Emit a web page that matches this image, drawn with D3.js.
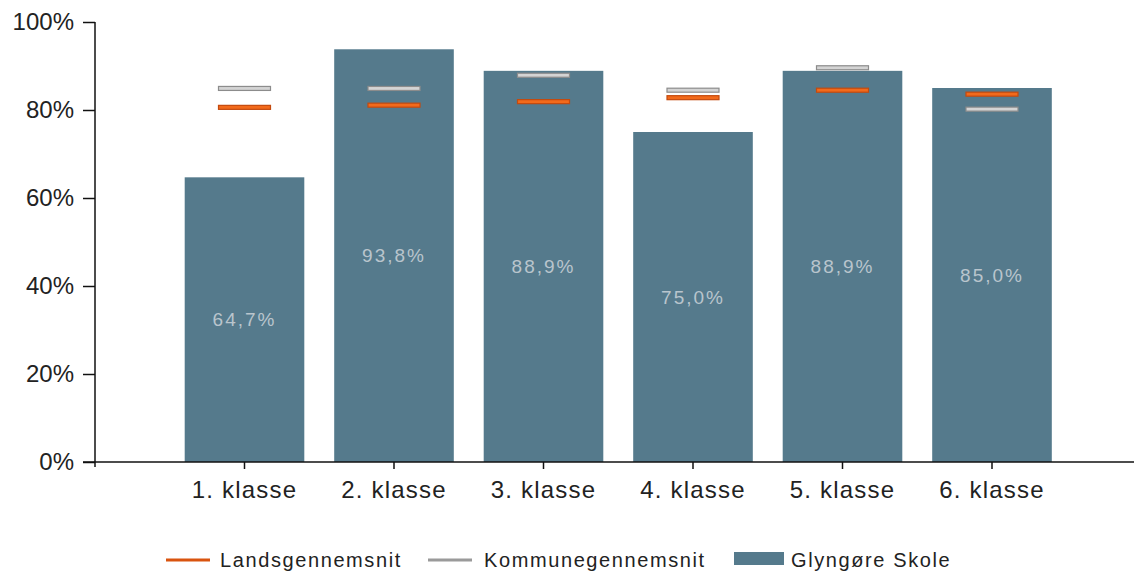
<!DOCTYPE html>
<html>
<head>
<meta charset="utf-8">
<script src="https://cdn.jsdelivr.net/npm/d3@7"></script>
<style>
  body { margin: 0; background: #fff; }
  svg { display: block; font-family: Arial, "Liberation Sans", sans-serif; }
</style>
</head>
<body>
<svg id="chart" width="1134" height="571"></svg>
<script>
const categories = ["1. klasse", "2. klasse", "3. klasse", "4. klasse", "5. klasse", "6. klasse"];
const skole = [64.7, 93.8, 88.9, 75.0, 88.9, 85.0];
const lands = [80.6, 81.1, 81.9, 82.8, 84.5, 83.6];
const kommune = [84.9, 84.9, 87.9, 84.5, 89.6, 80.2];
const yTicks = [0, 20, 40, 60, 80, 100];
const legendLabels = ["Landsgennemsnit", "Kommunegennemsnit", "Glyngøre Skole"];

const svg = d3.select("#chart");
const barColor = "#557a8c";
const textColor = "#222";

const x = d3.scaleBand()
  .domain(categories)
  .range([95, 1141.5])
  .paddingInner(0.2)
  .paddingOuter(0.6);

const y = d3.scaleLinear().domain([0, 100]).range([462, 22]);

// bars
svg.append("g").selectAll("rect")
  .data(categories)
  .join("rect")
  .attr("x", d => x(d))
  .attr("y", (d, i) => y(skole[i]))
  .attr("width", x.bandwidth())
  .attr("height", (d, i) => y(0) - y(skole[i]))
  .attr("fill", barColor);

// value labels in the middle of the bars
svg.append("g").selectAll("text")
  .data(categories)
  .join("text")
  .attr("x", d => x(d) + x.bandwidth() / 2)
  .attr("y", (d, i) => (y(skole[i]) + y(0)) / 2)
  .attr("dy", "0.35em")
  .attr("text-anchor", "middle")
  .attr("font-size", 19)
  .attr("letter-spacing", 2)
  .attr("fill", "#b9c5cd")
  .text((d, i) => skole[i].toFixed(1).replace(".", ",") + "%");

// average markers
const markW = 52, markH = 4;
function markers(values, fill, stroke) {
  svg.append("g").selectAll("rect")
    .data(categories)
    .join("rect")
    .attr("x", d => x(d) + x.bandwidth() / 2 - markW / 2)
    .attr("y", (d, i) => y(values[i]) - markH / 2)
    .attr("width", markW)
    .attr("height", markH)
    .attr("fill", fill)
    .attr("stroke", stroke)
    .attr("stroke-width", 1.2);
}
markers(kommune, "#d4d4d4", "#8c8c8c");
markers(lands, "#f26a1b", "#c44a0e");

// y axis
const yAxis = svg.append("g")
  .attr("transform", "translate(95,0)")
  .call(d3.axisLeft(y).tickValues(yTicks).tickSize(12).tickSizeOuter(0).tickPadding(9)
    .tickFormat(d => d + "%"));
yAxis.select(".domain").attr("d", "M0,22V467").attr("stroke", "#111").attr("stroke-width", 1.5);
yAxis.selectAll(".tick line").attr("stroke", "#111").attr("stroke-width", 1.5);
yAxis.selectAll(".tick text")
  .attr("font-size", 24)
  .attr("font-family", "Arial, 'Liberation Sans', sans-serif")
  .attr("fill", textColor);

// x axis
const xAxis = svg.append("g")
  .attr("transform", "translate(0,462)")
  .call(d3.axisBottom(x).tickSize(7).tickSizeOuter(0).tickPadding(12));
xAxis.select(".domain").attr("d", "M83,0H1134").attr("stroke", "#111").attr("stroke-width", 1.5);
xAxis.selectAll(".tick line").attr("stroke", "#111").attr("stroke-width", 1.5);
xAxis.selectAll(".tick text")
  .attr("font-size", 24)
  .attr("letter-spacing", 1.2)
  .attr("font-family", "Arial, 'Liberation Sans', sans-serif")
  .attr("fill", textColor);

// legend
const legend = svg.append("g").attr("font-size", 20).attr("letter-spacing", 1.6).attr("fill", textColor);
const lg1 = legend.append("g").attr("transform", "translate(166,560)");
lg1.append("line").attr("x1", 0).attr("x2", 44).attr("stroke", "#d9540f").attr("stroke-width", 3);
lg1.append("text").attr("x", 54).attr("dy", "0.35em").text(legendLabels[0]);
const lg2 = legend.append("g").attr("transform", "translate(428,560)");
lg2.append("line").attr("x1", 0).attr("x2", 44).attr("stroke", "#9a9a9a").attr("stroke-width", 3);
lg2.append("text").attr("x", 56).attr("dy", "0.35em").text(legendLabels[1]);
const lg3 = legend.append("g").attr("transform", "translate(734,560)");
lg3.append("rect").attr("y", -8).attr("width", 50).attr("height", 13).attr("fill", barColor);
lg3.append("text").attr("x", 57).attr("dy", "0.35em").text(legendLabels[2]);
</script>
</body>
</html>
